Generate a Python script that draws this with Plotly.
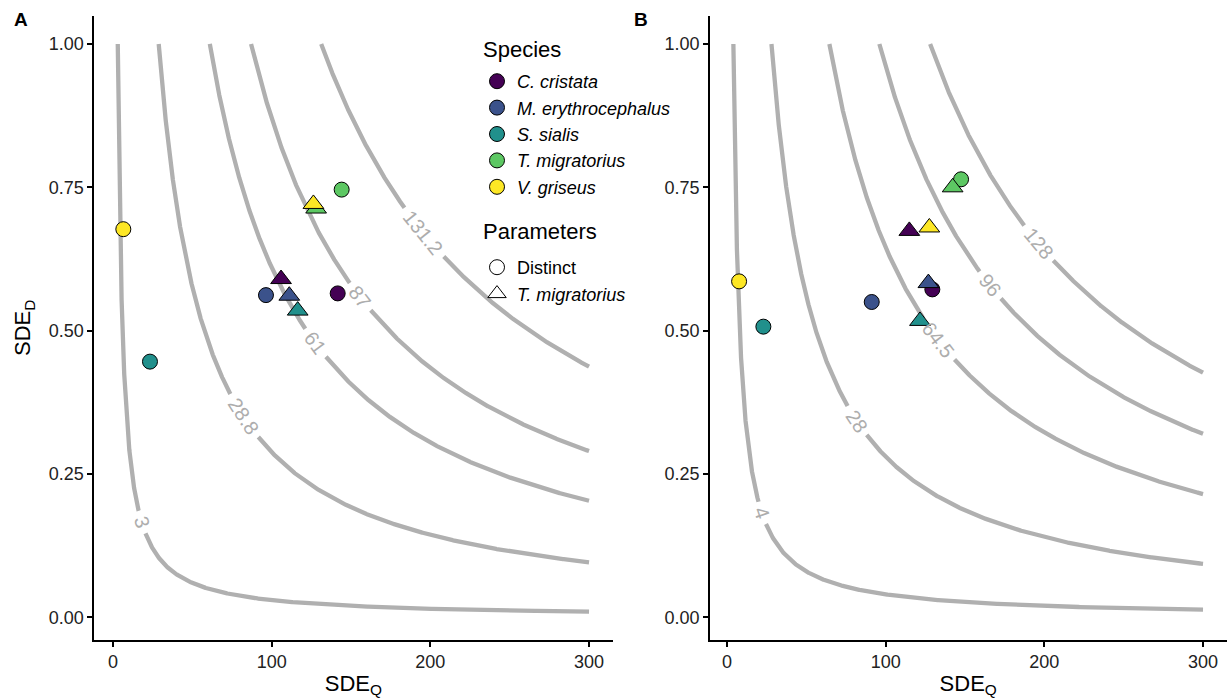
import numpy as np
import plotly.graph_objects as go

# ---------------- data ----------------
species = ["C. cristata", "M. erythrocephalus", "S. sialis", "T. migratorius", "V. griseus"]
species_colors = ["#440154", "#3B528B", "#21908C", "#5DC863", "#FDE725"]

# Panel A
a_distinct_x = [141.6, 96.4, 23.3, 144.1, 6.5]
a_distinct_y = [0.565, 0.562, 0.446, 0.746, 0.677]
a_tmig_x = [105.9, 111.1, 116.4, 128.0, 126.3]
a_tmig_y = [0.590, 0.561, 0.535, 0.713, 0.721]

# Panel B
b_distinct_x = [129.4, 91.2, 22.9, 147.5, 7.6]
b_distinct_y = [0.572, 0.550, 0.507, 0.764, 0.586]
b_tmig_x = [114.9, 126.9, 121.6, 142.2, 127.5]
b_tmig_y = [0.674, 0.583, 0.517, 0.750, 0.680]

# Iso-lines SDE_Q * SDE_D = level
a_levels = [3, 28.8, 61, 87, 131.2]
a_level_labels = ["3", "28.8", "61", "87", "131.2"]
a_label_x = [18.1, 82.1, 127.5, 155.6, 195.6]

b_levels = [4, 28, 64.5, 96, 128]
b_level_labels = ["4", "28", "64.5", "96", "128"]
b_label_x = [22.0, 81.7, 133.2, 165.7, 196.2]

x_curve_max = 300
x_ticks = [0, 100, 200, 300]
y_ticks = [0.0, 0.25, 0.50, 0.75, 1.00]

# ---------------- layout geometry ----------------
W, H = 1232, 699
FONT = "Liberation Sans, Arial, Helvetica, sans-serif"
TICK_FONT = 18
LABEL_FONT = 20
LINE_GREY = "#B0B0B0"
LABEL_GREY = "#ADADAD"

y_top_px, y_bot_px = 15.6, 640.0
panels = [
    dict(name="A", xref="x", yref="y", x0=94.2, x1=612.6,
         xr=[-11.85, 314.85], yr=[-0.0395, 1.0495],
         levels=a_levels, labels=a_level_labels, label_x=a_label_x,
         dx=a_distinct_x, dy=a_distinct_y, tx=a_tmig_x, ty=a_tmig_y),
    dict(name="B", xref="x2", yref="y2", x0=709.9, x1=1226.5,
         xr=[-10.8, 314.8], yr=[-0.0395, 1.0495],
         levels=b_levels, labels=b_level_labels, label_x=b_label_x,
         dx=b_distinct_x, dy=b_distinct_y, tx=b_tmig_x, ty=b_tmig_y),
]


def text_width(s, size):
    w = 0.0
    for ch in s:
        w += 0.278 if ch == "." else 0.556
    return w * size


fig = go.Figure()
annotations = []

for p in panels:
    sx = (p["x1"] - p["x0"]) / (p["xr"][1] - p["xr"][0])
    sy = (y_bot_px - y_top_px) / (p["yr"][1] - p["yr"][0])
    for c, lab, lx in zip(p["levels"], p["labels"], p["label_x"]):
        xs = np.geomspace(c, x_curve_max, 1500)
        ys = c / xs
        px = xs * sx
        py = ys * sy
        s = np.concatenate([[0], np.cumsum(np.hypot(np.diff(px), np.diff(py)))])
        s_lab = np.interp(lx, xs, s)
        half = (text_width(lab, LABEL_FONT) + 12) / 2
        mask = np.abs(s - s_lab) < half
        xs_plot = xs.astype(object)
        ys_plot = ys.astype(object)
        xs_plot[mask] = None
        ys_plot[mask] = None
        fig.add_trace(go.Scatter(
            x=list(xs_plot), y=list(ys_plot), mode="lines",
            line=dict(color=LINE_GREY, width=4.3),
            xaxis=p["xref"], yaxis=p["yref"], showlegend=False, hoverinfo="skip"))
        ly = c / lx
        ang = np.degrees(np.arctan((sy * c / lx ** 2) / sx))
        annotations.append(dict(
            x=lx, y=ly, xref=p["xref"], yref=p["yref"], text=lab, showarrow=False,
            textangle=float(ang), font=dict(size=LABEL_FONT, color=LABEL_GREY, family=FONT),
            xanchor="center", yanchor="middle"))

    # points: circles first, then triangles (species order)
    for i in range(len(species)):
        fig.add_trace(go.Scatter(
            x=[p["dx"][i]], y=[p["dy"][i]], mode="markers",
            marker=dict(symbol="circle", size=15, color=species_colors[i],
                        line=dict(color="black", width=1)),
            xaxis=p["xref"], yaxis=p["yref"], showlegend=False))
    for i in range(len(species)):
        fig.add_trace(go.Scatter(
            x=[p["tx"][i]], y=[p["ty"][i]], mode="markers",
            marker=dict(symbol="triangle-up", size=18, color=species_colors[i],
                        line=dict(color="black", width=1)),
            xaxis=p["xref"], yaxis=p["yref"], showlegend=False))

# legend entries
for sp, col in zip(species, species_colors):
    fig.add_trace(go.Scatter(
        x=[None], y=[None], mode="markers", name=f"<i>{sp}</i>",
        marker=dict(symbol="circle", size=15, color=col, line=dict(color="black", width=1)),
        legend="legend"))
fig.add_trace(go.Scatter(
    x=[None], y=[None], mode="markers", name="Distinct",
    marker=dict(symbol="circle", size=15, color="white", line=dict(color="black", width=1)),
    legend="legend2"))
fig.add_trace(go.Scatter(
    x=[None], y=[None], mode="markers", name="<i>T. migratorius</i>",
    marker=dict(symbol="triangle-up", size=18, color="white", line=dict(color="black", width=1)),
    legend="legend2"))

# legend titles
annotations.append(dict(x=481 / W, y=1 - 50 / H, xref="paper", yref="paper", text="Species",
                        showarrow=False, xanchor="left", yanchor="middle",
                        font=dict(size=22, color="black", family=FONT)))
annotations.append(dict(x=481 / W, y=1 - 232 / H, xref="paper", yref="paper", text="Parameters",
                        showarrow=False, xanchor="left", yanchor="middle",
                        font=dict(size=22, color="black", family=FONT)))

# panel tags
annotations.append(dict(x=12 / W, y=1 - 19 / H, xref="paper", yref="paper", text="<b>A</b>",
                        showarrow=False, xanchor="left", yanchor="middle",
                        font=dict(size=19, color="black", family=FONT)))
annotations.append(dict(x=632 / W, y=1 - 19 / H, xref="paper", yref="paper", text="<b>B</b>",
                        showarrow=False, xanchor="left", yanchor="middle",
                        font=dict(size=19, color="black", family=FONT)))

ydom = [(H - y_bot_px) / H, (H - y_top_px) / H]


def xaxis_cfg(p, anchor):
    return dict(domain=[p["x0"] / W, p["x1"] / W], range=p["xr"], anchor=anchor,
                tickvals=x_ticks, ticktext=[str(v) for v in x_ticks],
                showline=True, linecolor="black", linewidth=1.5,
                ticks="outside", ticklen=5, tickwidth=1.5, tickcolor="black",
                showgrid=False, zeroline=False, automargin=False,
                tickfont=dict(size=TICK_FONT, color="#222222", family=FONT),
                title=dict(text="SDE<sub>Q</sub>", standoff=4,
                           font=dict(size=22, color="black", family=FONT)))


def yaxis_cfg(p, anchor, title):
    cfg = dict(domain=ydom, range=p["yr"], anchor=anchor,
               tickvals=y_ticks, ticktext=[f"{v:.2f}" for v in y_ticks],
               showline=True, linecolor="black", linewidth=1.5,
               ticks="outside", ticklen=5, tickwidth=1.5, tickcolor="black",
               showgrid=False, zeroline=False, automargin=False,
               tickfont=dict(size=TICK_FONT, color="#222222", family=FONT))
    if title:
        cfg["title"] = dict(text=title, standoff=12,
                            font=dict(size=22, color="black", family=FONT))
    return cfg


fig.update_layout(
    width=W, height=H,
    margin=dict(l=0, r=0, t=0, b=0),
    paper_bgcolor="white", plot_bgcolor="white",
    font=dict(family=FONT, color="black"),
    xaxis=xaxis_cfg(panels[0], "y"),
    yaxis=yaxis_cfg(panels[0], "x", "SDE<sub>D</sub>"),
    xaxis2=xaxis_cfg(panels[1], "y2"),
    yaxis2=yaxis_cfg(panels[1], "x2", ""),
    annotations=annotations,
    legend=dict(x=477 / W, y=1 - 63 / H, xanchor="left", yanchor="top",
                bgcolor="rgba(0,0,0,0)", font=dict(size=18, family=FONT, color="black"),
                itemwidth=30, tracegroupgap=0),
    legend2=dict(x=477 / W, y=1 - 249 / H, xanchor="left", yanchor="top",
                 bgcolor="rgba(0,0,0,0)", font=dict(size=18, family=FONT, color="black"),
                 itemwidth=30, tracegroupgap=0),
    showlegend=True,
)

fig.write_html("out.html", post_script="document.body.style.margin='0';",
               config={"displayModeBar": False})
